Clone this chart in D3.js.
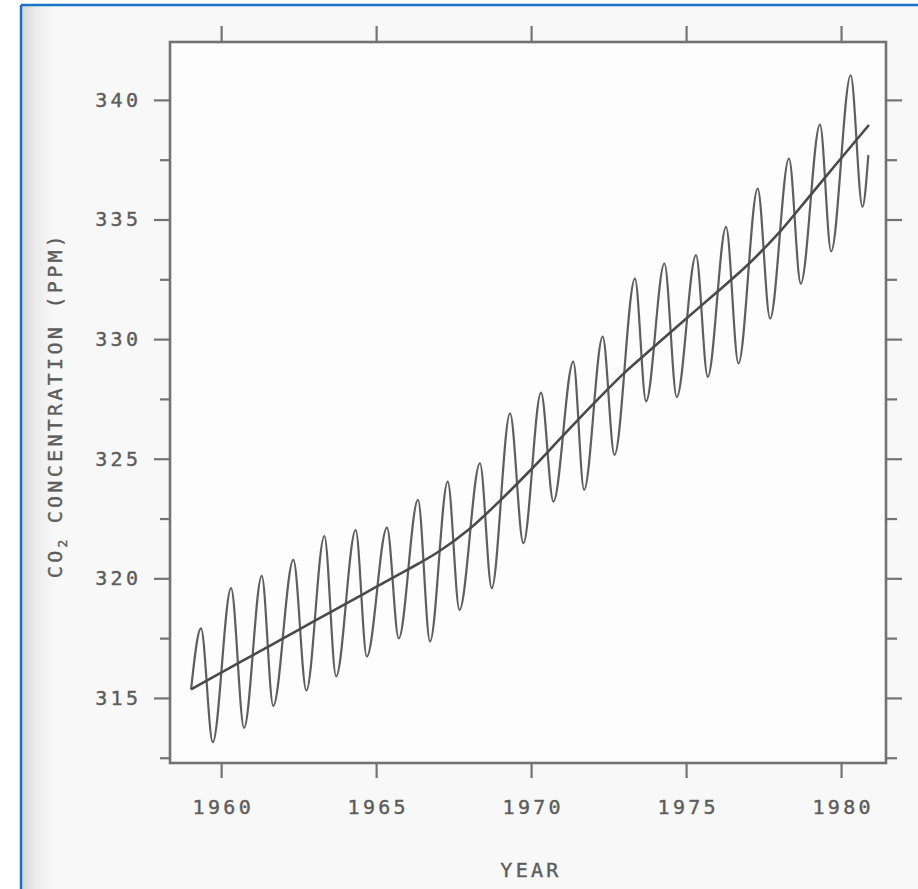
<!DOCTYPE html>
<html>
<head>
<meta charset="utf-8">
<script src="https://cdn.jsdelivr.net/npm/d3@7"></script>
<style>
  html, body { margin: 0; padding: 0; background: #ffffff; }
  svg { display: block; }
</style>
</head>
<body>
<svg id="chart" width="918" height="889"></svg>
<script>
// ---------- data ----------
// seasonal (monthly) curve: start, alternating peaks / troughs, end
const seasonYears = [1959.03, 1959.35, 1959.73, 1960.32, 1960.74, 1961.31, 1961.68, 1962.33, 1962.75,
  1963.33, 1963.71, 1964.34, 1964.70, 1965.35, 1965.73, 1966.35, 1966.74, 1967.31, 1967.69,
  1968.35, 1968.73, 1969.32, 1969.75, 1970.32, 1970.72, 1971.36, 1971.71, 1972.31, 1972.69,
  1973.35, 1973.71, 1974.30, 1974.70, 1975.32, 1975.70, 1976.29, 1976.69, 1977.31, 1977.71,
  1978.32, 1978.70, 1979.32, 1979.68, 1980.31, 1980.69, 1980.88];
const seasonPpm = [315.36, 317.91, 313.15, 319.59, 313.75, 320.10, 314.67, 320.77, 315.31,
  321.77, 315.90, 322.02, 316.73, 322.12, 317.49, 323.28, 317.36, 324.04, 318.68,
  324.81, 319.59, 326.90, 321.47, 327.76, 323.21, 329.06, 323.70, 330.10, 325.16,
  332.53, 327.40, 333.16, 327.58, 333.51, 328.42, 334.69, 328.98, 336.29, 330.86,
  337.55, 332.32, 338.97, 333.67, 341.03, 335.53, 337.69];

// smoothed trend curve
const trendYears = [1959.03, 1960, 1961, 1962, 1963, 1964, 1965, 1966, 1967, 1968, 1969, 1970,
  1971, 1972, 1973, 1974, 1975, 1976, 1977, 1978, 1979, 1980, 1980.9];
const trendPpm = [315.36, 316.06, 316.77, 317.49, 318.21, 318.92, 319.64, 320.35, 321.10, 322.05, 323.25, 324.55,
  325.92, 327.28, 328.58, 329.72, 330.85, 331.97, 333.12, 334.45, 336.00, 337.56, 338.95];

const yMajorTicks = [315, 320, 325, 330, 335, 340];
const yMinorTicks = [312.5, 317.5, 322.5, 327.5, 332.5, 337.5];
const xTicks = [1960, 1965, 1970, 1975, 1980];
const xTitle = "YEAR";
const yTitleParts = ["CO", "2", " CONCENTRATION (PPM)"];

// ---------- drawing ----------
const svg = d3.select("#chart");
const W = 918, H = 889;
const ink = "#5c5c5c";
const frameInk = "#737373";
const fontFam = "'DejaVu Sans Mono', 'Liberation Mono', monospace";
const LS = 3.3;

function textStyle(sel, size) {
  sel.attr("fill", ink)
    .attr("stroke", ink)
    .attr("stroke-width", 0.4)
    .style("font-family", fontFam)
    .style("font-size", size + "px")
    .style("letter-spacing", LS + "px");
}

// page / scan background
const defs = svg.append("defs");
const g1 = defs.append("linearGradient").attr("id", "edge").attr("x1", 0).attr("x2", 1).attr("y1", 0).attr("y2", 0);
g1.append("stop").attr("offset", 0).attr("stop-color", "#d4d4d4");
g1.append("stop").attr("offset", 0.45).attr("stop-color", "#ececec");
g1.append("stop").attr("offset", 1).attr("stop-color", "#f8f8f8");

svg.append("rect").attr("x", 0).attr("y", 0).attr("width", W).attr("height", H).attr("fill", "#ffffff");
svg.append("rect").attr("x", 21).attr("y", 5).attr("width", W - 21).attr("height", H - 5).attr("fill", "#f8f8f8");
svg.append("rect").attr("x", 21).attr("y", 5).attr("width", 34).attr("height", H - 5).attr("fill", "url(#edge)");

const x = d3.scaleLinear().domain([1958.35, 1981.45]).range([170, 886]);
const y = d3.scaleLinear().domain([312.28, 342.42]).range([763, 42]);

// plot area slightly whiter
svg.append("rect")
  .attr("x", x.range()[0]).attr("y", y.range()[1])
  .attr("width", x.range()[1] - x.range()[0]).attr("height", y.range()[0] - y.range()[1])
  .attr("fill", "#fdfdfd");

function styleAxis(g) {
  g.select(".domain").remove();
  g.selectAll(".tick line").attr("stroke", frameInk).attr("stroke-width", 2.2);
  g.selectAll(".tick text").call(textStyle, 20);
}

// left axis (major with labels, minor without)
svg.append("g").attr("transform", `translate(${x.range()[0]},0)`)
  .call(d3.axisLeft(y).tickValues(yMajorTicks).tickSize(16).tickPadding(16 - LS).tickFormat(d3.format("d")))
  .call(styleAxis);
svg.append("g").attr("transform", `translate(${x.range()[0]},0)`)
  .call(d3.axisLeft(y).tickValues(yMinorTicks).tickSize(10).tickFormat(""))
  .call(styleAxis);

// right axis
svg.append("g").attr("transform", `translate(${x.range()[1]},0)`)
  .call(d3.axisRight(y).tickValues(yMajorTicks).tickSize(16).tickFormat(""))
  .call(styleAxis);
svg.append("g").attr("transform", `translate(${x.range()[1]},0)`)
  .call(d3.axisRight(y).tickValues(yMinorTicks).tickSize(11).tickFormat(""))
  .call(styleAxis);

// top axis
svg.append("g").attr("transform", `translate(0,${y.range()[1]})`)
  .call(d3.axisTop(x).tickValues(xTicks).tickSize(16).tickFormat(""))
  .call(styleAxis);

// bottom axis
const bottom = svg.append("g").attr("transform", `translate(0,${y.range()[0]})`)
  .call(d3.axisBottom(x).tickValues(xTicks).tickSize(15).tickPadding(22).tickFormat(d3.format("d")))
  .call(styleAxis);
bottom.selectAll(".tick text").attr("dx", LS / 2);

// frame
svg.append("rect")
  .attr("x", x.range()[0]).attr("y", y.range()[1])
  .attr("width", x.range()[1] - x.range()[0]).attr("height", y.range()[0] - y.range()[1])
  .attr("fill", "none").attr("stroke", frameInk).attr("stroke-width", 2.6);

// seasonal curve
const season = seasonYears.map((d, i) => [d, seasonPpm[i]]);
svg.append("path")
  .datum(season)
  .attr("fill", "none")
  .attr("stroke", "#5e5e5e")
  .attr("stroke-width", 2.2)
  .attr("stroke-linejoin", "round")
  .attr("d", d3.line().x(d => x(d[0])).y(d => y(d[1])).curve(d3.curveMonotoneX));

// trend curve
const trend = trendYears.map((d, i) => [d, trendPpm[i]]);
svg.append("path")
  .datum(trend)
  .attr("fill", "none")
  .attr("stroke", "#4a4a4a")
  .attr("stroke-width", 2.6)
  .attr("d", d3.line().x(d => x(d[0])).y(d => y(d[1])).curve(d3.curveCatmullRom.alpha(0.5)));

// axis titles
svg.append("text")
  .attr("x", (x.range()[0] + x.range()[1]) / 2 + 3)
  .attr("y", 877)
  .attr("text-anchor", "middle")
  .call(textStyle, 20)
  .text(xTitle);

const yt = svg.append("text")
  .attr("transform", "translate(62,405) rotate(-90)")
  .attr("text-anchor", "middle")
  .call(textStyle, 20);
yt.append("tspan").text(yTitleParts[0]);
yt.append("tspan").attr("dy", 5).style("font-size", "13px").style("letter-spacing", "1px").text(yTitleParts[1]);
yt.append("tspan").attr("dy", -5).attr("xml:space", "preserve").style("white-space", "pre").text(yTitleParts[2]);

// blue frame of the screenshot
svg.append("line").attr("x1", 21).attr("y1", 5).attr("x2", W).attr("y2", 5)
  .attr("stroke", "#1a72c9").attr("stroke-width", 2.5);
svg.append("line").attr("x1", 21).attr("y1", 5).attr("x2", 21).attr("y2", H)
  .attr("stroke", "#1a72c9").attr("stroke-width", 2.5);
</script>
</body>
</html>
